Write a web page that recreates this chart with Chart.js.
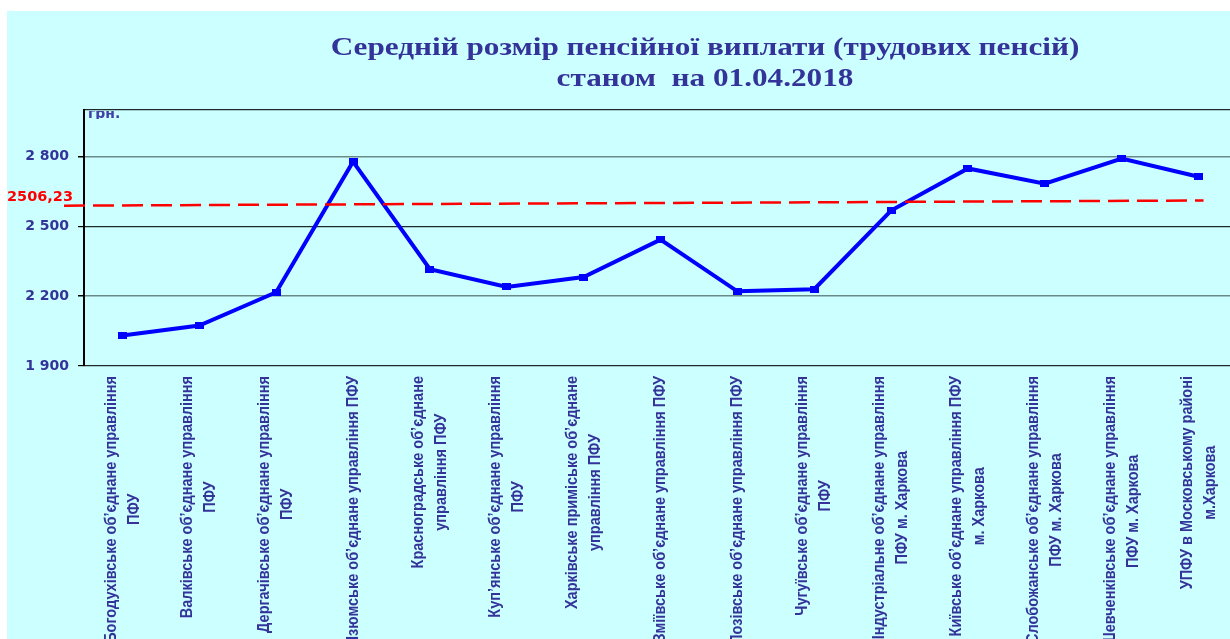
<!DOCTYPE html>
<html><head><meta charset="utf-8">
<script src="https://cdn.jsdelivr.net/npm/chart.js@4.4.0/dist/chart.umd.min.js"></script>
<style>
html,body{margin:0;padding:0;overflow:hidden;background:#fff;width:1230px;height:639px}
#wrap{position:absolute;left:0;top:0;width:1250px;height:639px}
</style></head><body>
<div id="wrap"><canvas id="c" width="1250" height="639"></canvas></div>
<script>
const categories = [
  ['Богодухівське об’єднане управління', 'ПФУ'],
  ['Валківське об’єднане управління', 'ПФУ'],
  ['Дергачівське об’єднане управління', 'ПФУ'],
  ['Ізюмське об’єднане управління ПФУ'],
  ['Красноградське об’єднане', 'управління ПФУ'],
  ['Куп’янське об’єднане управління', 'ПФУ'],
  ['Харківське приміське об’єднане', 'управління ПФУ'],
  ['Зміївське об’єднане управління ПФУ'],
  ['Лозівське об’єднане управління ПФУ'],
  ['Чугуївське об’єднане управління', 'ПФУ'],
  ['Індустріальне об’єднане управління', 'ПФУ м. Харкова'],
  ['Київське об’єднане управління ПФУ', 'м. Харкова'],
  ['Слобожанське об’єднане управління', 'ПФУ м. Харкова'],
  ['Шевченківське об’єднане управління', 'ПФУ м. Харкова'],
  ['УПФУ в Московському районі', 'м.Харкова']
];
const pensionValues = [2031, 2074, 2217, 2778, 2316, 2240, 2282, 2443, 2221, 2230, 2568, 2749, 2683, 2791, 2713];
const averageLineEnds = [2589, 2611];
const averageLabel = '2506,23';
const yMin = 1900, yMax = 3000;
const yTickValues = [1900, 2200, 2500, 2800, 3000];
const titleLines = ['Середній розмір пенсійної виплати (трудових пенсій)', 'станом  на 01.04.2018'];
const unitLabel = 'грн.';

const TEXT_BLUE = '#333399';

const marker = document.createElement('canvas');
marker.width = 9; marker.height = 7;
(function(){const g = marker.getContext('2d'); g.fillStyle = '#0000ff'; g.fillRect(0,0,9,7);})();

function fmt(v){ return String(v).replace(/\B(?=(\d{3})+(?!\d))/g, ' '); }

const decor = {
  id: 'decor',
  beforeDraw(chart){
    const c = chart.ctx;
    c.save();
    c.fillStyle = '#ffffff';
    c.fillRect(0, 0, chart.width, chart.height);
    c.fillStyle = '#ccffff';
    c.fillRect(7, 11, chart.width - 7, chart.height - 11);
    c.restore();
  },
  afterDatasetsDraw(chart){
    const c = chart.ctx;
    const x = chart.scales.x, y = chart.scales.y;
    const x0 = chart.chartArea.left - 20;
    const x1 = x.getPixelForValue(categories.length - 1) + 5;
    c.save();
    c.strokeStyle = '#ff0000';
    c.lineWidth = 2.5;
    c.setLineDash([21, 8]);
    c.beginPath();
    c.moveTo(x0, y.getPixelForValue(averageLineEnds[0]));
    c.lineTo(x1, y.getPixelForValue(averageLineEnds[1]));
    c.stroke();
    c.restore();
  },
  afterDraw(chart){
    const c = chart.ctx;
    const x = chart.scales.x;
    const area = chart.chartArea;
    c.save();
    // title
    c.fillStyle = TEXT_BLUE;
    c.textAlign = 'center';
    c.textBaseline = 'middle';
    c.font = 'bold 26px "Liberation Serif", "Times New Roman", serif';
    const tx = 705, sx = 1.2;
    [48, 79].forEach((ty, i) => {
      c.save();
      c.translate(tx, ty);
      c.scale(sx, 1);
      c.fillText(titleLines[i], 0, 0);
      c.restore();
    });
    // unit label
    c.save();
    c.beginPath();
    c.rect(area.left + 2, area.top + 1, 60, 8);
    c.clip();
    c.fillStyle = '#4040a8';
    c.textAlign = 'left';
    c.textBaseline = 'alphabetic';
    c.font = 'bold 14px "DejaVu Sans", sans-serif';
    c.fillText(unitLabel, area.left + 4, area.top + 8);
    c.restore();
    // average label
    c.fillStyle = '#ff0000';
    c.textAlign = 'left';
    c.textBaseline = 'middle';
    c.font = 'bold 14.5px "DejaVu Sans", sans-serif';
    c.fillText(averageLabel, 7, 197);
    // category labels
    c.fillStyle = TEXT_BLUE;
    c.font = 'bold 14.5px "Liberation Sans", Arial, sans-serif';
    c.textAlign = 'center';
    c.textBaseline = 'middle';
    const top = area.bottom + 10;
    const lineGap = 23;
    categories.forEach((lines, i) => {
      const cx = x.getPixelForValue(i);
      const maxLen = Math.max(...lines.map(l => c.measureText(l).width));
      const cy = top + maxLen / 2;
      lines.forEach((l, j) => {
        const lx = cx + (j - (lines.length - 1) / 2) * lineGap;
        c.save();
        c.translate(lx, cy);
        c.scale(1.15, 1);
        c.rotate(-Math.PI / 2);
        c.fillText(l, 0, 0);
        c.restore();
      });
    });
    c.restore();
  }
};

new Chart(document.getElementById('c'), {
  type: 'line',
  data: {
    labels: categories,
    datasets: [{
      label: 'Середній розмір',
      data: pensionValues,
      borderColor: '#0000ff',
      backgroundColor: '#0000ff',
      borderWidth: 4,
      pointStyle: marker,
      pointRadius: 5,
      tension: 0,
      fill: false
    }]
  },
  options: {
    responsive: false,
    animation: false,
    devicePixelRatio: 1,
    layout: { padding: { left: 0, right: 13, top: 110, bottom: 273 } },
    plugins: { legend: { display: false }, tooltip: { enabled: false }, title: { display: false } },
    scales: {
      x: { display: false, offset: true },
      y: {
        min: yMin, max: yMax,
        afterFit(s){ s.width = 84; },
        afterBuildTicks(s){ s.ticks = yTickValues.map(v => ({ value: v })); },
        ticks: {
          padding: 9,
          color: TEXT_BLUE,
          font: { family: '"DejaVu Sans", sans-serif', weight: 'bold', size: 14 },
          callback: v => (v === yMax ? '' : fmt(v))
        },
        grid: {
          tickLength: 6,
          color: ctx => (ctx.tick && (ctx.tick.value === 2800 || ctx.tick.value === 2200)) ? '#6a8a8a' : '#1e2a2a',
          lineWidth: ctx => (ctx.tick && (ctx.tick.value === 2800 || ctx.tick.value === 2200)) ? 1.5 : 1.2,
          tickColor: ctx => (ctx.tick && ctx.tick.value === yMax) ? 'rgba(0,0,0,0)' : '#000'
        },
        border: { display: true, color: '#000', width: 2 }
      }
    }
  },
  plugins: [decor]
});
</script>
</body></html>
